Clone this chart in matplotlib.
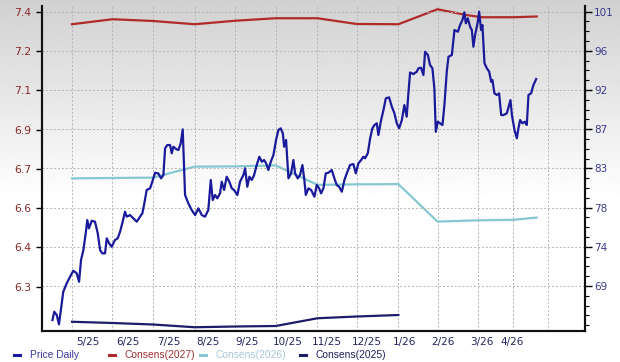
import numpy as np
import matplotlib
matplotlib.use("Agg")
import matplotlib.pyplot as plt
from matplotlib.lines import Line2D
from matplotlib.ticker import FixedLocator, AutoMinorLocator

# =========================
# DATA  (x = days from 2025-05-01 on the chart's time scale)
# =========================

grid_days = [0, 31, 62, 94, 125, 156, 188, 218, 250, 280, 311, 338, 365]
label_days = [12, 43, 74, 104, 134, 165, 195, 226, 255, 284, 314, 337]
month_labels = ["5/25", "6/25", "7/25", "8/25", "9/25", "10/25", "11/25",
                "12/25", "1/26", "2/26", "3/26", "4/26"]

price_days = [
    -15, -13.6, -11.7, -10, -7.9, -6.7, -4.1, -1.5, 1, 3.6, 5.4, 6.9, 8.7,
    10.5, 11.7, 13, 15.1, 17.6, 19.7, 21.5, 23.2, 25.3, 26.6, 28.4, 30.4,
    32.9, 35, 36.8, 38.5, 40.6, 41.9, 44.4, 47, 49.6, 52.1, 53.9, 55.4, 57.2,
    59.8, 61.5, 63.6, 66.1, 68.2, 70, 71.3, 73, 75.1, 76.4, 77.6, 80.2, 81.5,
    83.3, 84.8, 85.8, 86.6, 89.1, 91.7, 94.3, 96.8, 99.4, 101.9, 104.4,
    106.3, 107.8, 109.6, 111.3, 113.4, 114.7, 116.5, 118.5, 120.5, 122.4,
    124.1, 126.7, 128.7, 130, 131.3, 132.6, 134.3, 135.9, 137.7, 139.5,
    141.5, 143.5, 145.4, 147.1, 148.7, 150.4, 152.3, 154.3, 156.3, 158.1,
    159.9, 161.5, 162.5, 164, 165.8, 167.8, 169.6, 170.9, 172.9, 174.7,
    176.5, 178, 179.1, 181.1, 183.2, 185.7, 187.5, 189.3, 190.8, 192.6,
    194.4, 196.4, 199, 201, 202.8, 204.6, 206.7, 208.7, 210.5, 213, 215.6,
    217.4, 219.4, 221.5, 223.2, 224.5, 226.6, 228.4, 230.1, 231.7, 233.5,
    234.7, 236.8, 238.6, 240.4, 242.9, 245, 247, 248.8, 250.6, 252.7, 254.6,
    256.4, 257.7, 259, 261.5, 264.1, 265.4, 267.4, 269.2, 270.5, 272.6,
    274.3, 276.1, 277.6, 278.7, 280.2, 282, 283.8, 285.3, 287.1, 288.4, 291,
    293, 295.6, 297.3, 299.1, 300.6, 301.7, 303.2, 305, 306.3, 307.5, 308.8,
    310.9, 311.9, 313.4, 314.4, 316, 317.8, 319.6, 321.1, 322.1, 323.6,
    325.5, 327.2, 328.8, 330.5, 333.1, 334.9, 335.9, 337, 339, 340.8, 342,
    343.3, 345.1, 347.1, 348.4, 349.7, 351.7, 353.5, 355.6,
]
price_vals = [
    65.05, 66.02, 65.63, 64.55, 66.99, 68.34, 69.31, 70.08, 70.78, 70.47,
    69.5, 72.02, 73.18, 75.12, 76.66, 75.7, 76.58, 76.47, 75.12, 73.18, 72.8,
    72.8, 74.54, 73.96, 73.56, 74.34, 74.54, 75.3, 76.28, 77.63, 77.05,
    77.24, 76.86, 76.47, 77.05, 77.44, 78.6, 80.15, 80.34, 81.11, 82.15,
    82.08, 81.5, 81.89, 84.99, 85.37, 85.37, 84.41, 85.17, 84.87, 84.79,
    85.57, 87.19, 82.85, 79.57, 78.6, 77.82, 77.24, 78.02, 77.24, 77.05,
    77.82, 81.31, 78.98, 79.57, 79.18, 79.76, 81.11, 80.15, 81.69, 81.11,
    80.34, 80.15, 79.57, 81.11, 81.5, 81.89, 82.67, 80.53, 81.69, 81.31,
    81.89, 83.05, 84.01, 83.43, 83.63, 83.25, 82.47, 83.43, 84.21, 85.95,
    87.11, 87.31, 86.73, 85.17, 85.95, 81.5, 82.08, 83.63, 82.08, 81.5,
    81.89, 83.05, 81.31, 79.57, 80.34, 80.15, 79.37, 80.73, 80.34, 79.76,
    80.34, 82.08, 82.15, 82.47, 81.5, 80.73, 80.53, 79.95, 81.31, 82.08,
    83.05, 83.16, 82.08, 83.25, 83.63, 84.01, 83.83, 84.41, 86.15, 87.31,
    87.69, 87.89, 86.53, 88.27, 89.43, 90.79, 90.91, 89.82, 89.05, 87.89,
    87.31, 88.27, 90.01, 88.66, 91.37, 93.79, 93.61, 93.88, 94.28, 94.34,
    93.5, 96.2, 95.82, 94.66, 94.28, 91.95, 86.91, 88.08, 87.89, 87.69,
    90.01, 93.88, 95.62, 95.82, 98.72, 98.52, 99.3, 99.88, 100.78, 99.5,
    100.08, 99.1, 98.72, 96.78, 98.14, 99.69, 100.85, 98.72, 99.3, 94.86,
    94.28, 93.88, 92.72, 92.92, 91.37, 91.18, 91.37, 88.85, 88.85, 89.05,
    90.01, 90.59, 88.85, 87.11, 86.15, 87.31, 88.27, 87.89, 88.08, 87.69,
    91.18, 91.37, 92.34, 93.03,
]

cons27_days = [0, 31, 62, 94, 125, 156, 188, 218, 250, 280, 302, 314, 338, 356]
cons27_vals = [7.320, 7.340, 7.333, 7.320, 7.334, 7.344, 7.344, 7.321, 7.320,
               7.380, 7.357, 7.348, 7.348, 7.351]

cons26_days = [0, 62, 94, 125, 156, 188, 218, 250, 280, 311, 338, 356]
cons26_vals = [6.703, 6.706, 6.750, 6.751, 6.755, 6.677, 6.679, 6.680, 6.530,
               6.535, 6.537, 6.546]

cons25_days = [0, 31, 62, 94, 125, 156, 188, 218, 250]
cons25_vals = [6.129, 6.124, 6.118, 6.107, 6.110, 6.112, 6.143, 6.150, 6.156]

eps_ticks = [6.27 + 0.157 * k for k in range(8)]
eps_labels = ["6.3", "6.4", "6.6", "6.7", "6.9", "7.1", "7.2", "7.4"]
price_ticks = [69 + 4.55 * k for k in range(8)]
price_labels = ["69", "74", "78", "83", "87", "92", "96", "101"]

series_names = ["Price Daily", "Consens(2027)", "Consens(2026)", "Consens(2025)"]

# =========================
# COLORS
# =========================

c_price = "#1a1a9a"
c_27 = "#b02a2a"
c_26 = "#86c8d2"
c_25 = "#1c1c6a"
legend_text_colors = ["#3a3a9a", "#a03030", "#a8c6d4", "#202060"]

# =========================
# FIGURE + GRADIENT BACKGROUND
# =========================

W, H = 620, 362
fig = plt.figure(figsize=(W / 100, H / 100), dpi=100)
bg = fig.add_axes([0, 0, 1, 1], zorder=-10)
grad = np.clip(np.linspace(0.0, 1.0, 256) / 0.55, 0, 1)
grad = 0.82 + 0.18 * grad
bg.imshow(grad[:, None], aspect="auto", cmap="gray", vmin=0, vmax=1,
          extent=[0, 1, 0, 1], origin="upper")
bg.axis("off")

ax = fig.add_axes([42 / W, 31 / H, 543 / W, 325 / H])
ax.patch.set_alpha(0)
ax2 = ax.twinx()

# =========================
# LINES
# =========================

ax.plot(cons27_days, cons27_vals, color=c_27, lw=1.6)
ax.plot(cons26_days, cons26_vals, color=c_26, lw=1.6)
ax.plot(cons25_days, cons25_vals, color=c_25, lw=1.6)
ax2.plot(price_days, price_vals, color=c_price, lw=1.6)

# =========================
# AXES
# =========================

ax.set_xlim(-23, 393)
ax.set_ylim(6.092, 7.393)
ax2.set_ylim(63.78, 101.51)

ax.xaxis.set_major_locator(FixedLocator(grid_days))
ax.xaxis.set_minor_locator(FixedLocator(label_days))
ax.xaxis.set_major_formatter(plt.NullFormatter())
ax.xaxis.set_minor_formatter(plt.FixedFormatter(month_labels))
ax.tick_params(axis="x", which="both", length=0, pad=4,
               labelsize=7.5, labelcolor="#24245e")
ax.grid(axis="x", which="major", color="#b4b4b4", linestyle=(0, (2, 2)), lw=0.7)

ax.yaxis.set_major_locator(FixedLocator(eps_ticks))
ax.set_yticklabels(eps_labels)
ax.tick_params(axis="y", length=4, width=1, pad=4, labelsize=7.8,
               labelcolor="#8a2a2a")

ax2.yaxis.set_major_locator(FixedLocator(price_ticks))
ax2.set_yticklabels(price_labels)
ax2.yaxis.set_minor_locator(AutoMinorLocator(4))
ax2.tick_params(axis="y", which="major", length=5, width=1, pad=1.5,
                labelsize=7.5, labelcolor="#3a3a8c")
ax2.tick_params(axis="y", which="minor", length=3, width=0.8)
ax2.grid(axis="y", which="major", color="#b4b4b4", linestyle=(0, (2, 2)), lw=0.7)

for a in (ax, ax2):
    a.spines["top"].set_visible(False)
    for s in ("left", "right", "bottom"):
        a.spines[s].set_linewidth(1.5)
        a.spines[s].set_color("#111111")

# =========================
# LEGEND (manual row under the chart)
# =========================

swatch_x = [14, 109, 200, 300]
legend_y = 7 / H
for sx, name, col, tcol in zip(swatch_x, series_names,
                               [c_price, c_27, c_26, c_25], legend_text_colors):
    fig.add_artist(Line2D([sx / W, (sx + 6) / W], [legend_y, legend_y],
                          color=col, lw=2.2, transform=fig.transFigure))
    fig.text((sx + 16) / W, legend_y, name, color=tcol, va="center", ha="left",
             family="Liberation Sans", fontsize=7.4)

fig.savefig("out.png", dpi=100)
